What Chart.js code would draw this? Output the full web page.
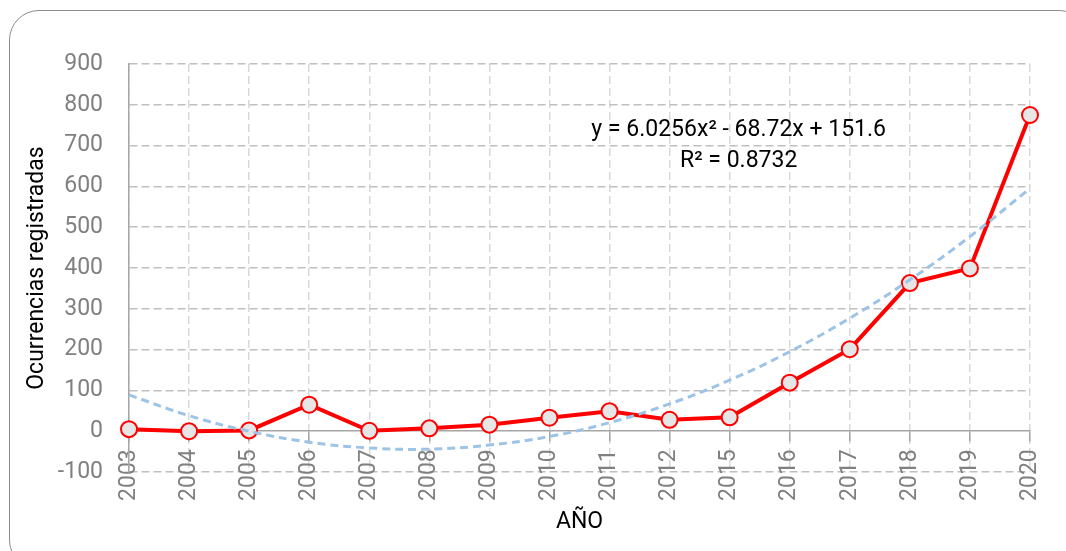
<!DOCTYPE html>
<html>
<head>
<meta charset="utf-8">
<script src="https://cdn.jsdelivr.net/npm/chart.js@4.4.1/dist/chart.umd.min.js"></script>
<style>
  html, body { margin: 0; padding: 0; background: #fff; overflow: hidden; }
  #wrap { position: relative; width: 1066px; height: 551px; }
  #frame {
    position: absolute; left: 9px; top: 10px; width: 1080px; height: 560px;
    border: 1.5px solid #8c8c8c; border-radius: 30px; box-sizing: border-box;
  }
  #chart { position: absolute; left: 0; top: 0; }
</style>
</head>
<body>
<div id="wrap">
  <div id="frame"></div>
  <canvas id="chart" width="1066" height="551"></canvas>
</div>
<script>
const years = ['2003', '2004', '2005', '2006', '2007', '2008', '2009', '2010',
  '2011', '2012', '2015', '2016', '2017', '2018', '2019', '2020'];
const ocurrencias = [5, 0, 2, 65, 1, 7, 16, 33, 49, 28, 34, 119, 201, 363, 399, 775];
// polynomial trend line
const tendencia = [89, 38, 0, -27, -41, -44, -34, -13, 21, 67, 125, 195, 277, 371, 477, 595];
const yMin = -100;
const yMax = 900;
const yStep = 100;
const equationLines = ['y = 6.0256x² - 68.72x + 151.6', 'R² = 0.8732'];

const FONT = "Roboto, 'Liberation Sans', sans-serif";
const tickGrey = '#808080';

const equationLabel = {
  id: 'equationLabel',
  afterDraw(chart) {
    const { ctx, scales: { x, y } } = chart;
    ctx.save();
    ctx.font = `23px ${FONT}`;
    ctx.fillStyle = '#000';
    ctx.textAlign = 'center';
    ctx.textBaseline = 'middle';
    const cx = x.getPixelForValue(10.15);
    ctx.fillText(equationLines[0], cx, y.getPixelForValue(737));
    ctx.fillText(equationLines[1], cx, y.getPixelForValue(662));
    ctx.restore();
  }
};

const chart = new Chart(document.getElementById('chart'), {
  type: 'line',
  data: {
    labels: years,
    datasets: [
      {
        label: 'Tendencia',
        data: tendencia,
        borderColor: '#9dc3e6',
        borderWidth: 3,
        borderDash: [8, 5],
        pointRadius: 0,
        tension: 0.4,
        fill: false,
        order: 0,
      },
      {
        label: 'Ocurrencias',
        data: ocurrencias,
        borderColor: '#ff0000',
        borderWidth: 4,
        pointRadius: 8,
        pointBackgroundColor: '#e6e6e6',
        pointBorderColor: '#ff0000',
        pointBorderWidth: 2,
        tension: 0,
        fill: false,
        order: 1,
      },
    ],
  },
  options: {
    responsive: false,
    animation: false,
    layout: { padding: { left: 0, top: 64, right: 36, bottom: 79 } },
    plugins: {
      legend: { display: false },
      tooltip: { enabled: false },
    },
    scales: {
      x: {
        position: { y: 0 },
        offset: false,
        grid: {
          color: '#d9d9d9',
          lineWidth: 1.5,
          tickColor: '#a6a6a6',
          tickWidth: 1.5,
          tickLength: 10,
          tickBorderDash: [],
        },
        border: { display: true, color: '#a6a6a6', width: 1.5, dash: [8, 4] },
        ticks: {
          color: tickGrey,
          font: { family: FONT, size: 23 },
          minRotation: 90,
          maxRotation: 90,
          autoSkip: false,
          padding: 8,
        },
        title: {
          display: true,
          text: 'AÑO',
          color: '#000',
          font: { family: FONT, size: 23 },
          padding: { top: 0, bottom: 0 },
        },
      },
      y: {
        min: yMin,
        max: yMax,
        afterFit(scale) { scale.width = 129; },
        grid: {
          color: c => (c.tick && c.tick.value === 0 ? 'rgba(0,0,0,0)' : '#bfbfbf'),
          lineWidth: 1.5,
          drawTicks: false,
        },
        border: { display: true, color: '#a6a6a6', width: 1.5, dash: [8, 4] },
        ticks: {
          stepSize: yStep,
          color: tickGrey,
          font: { family: FONT, size: 23 },
          padding: 26,
        },
        title: {
          display: true,
          text: 'Ocurrencias registradas',
          color: '#000',
          font: { family: FONT, size: 23 },
          padding: { top: 23, bottom: 0 },
        },
      },
    },
  },
  plugins: [equationLabel],
});
</script>
</body>
</html>
